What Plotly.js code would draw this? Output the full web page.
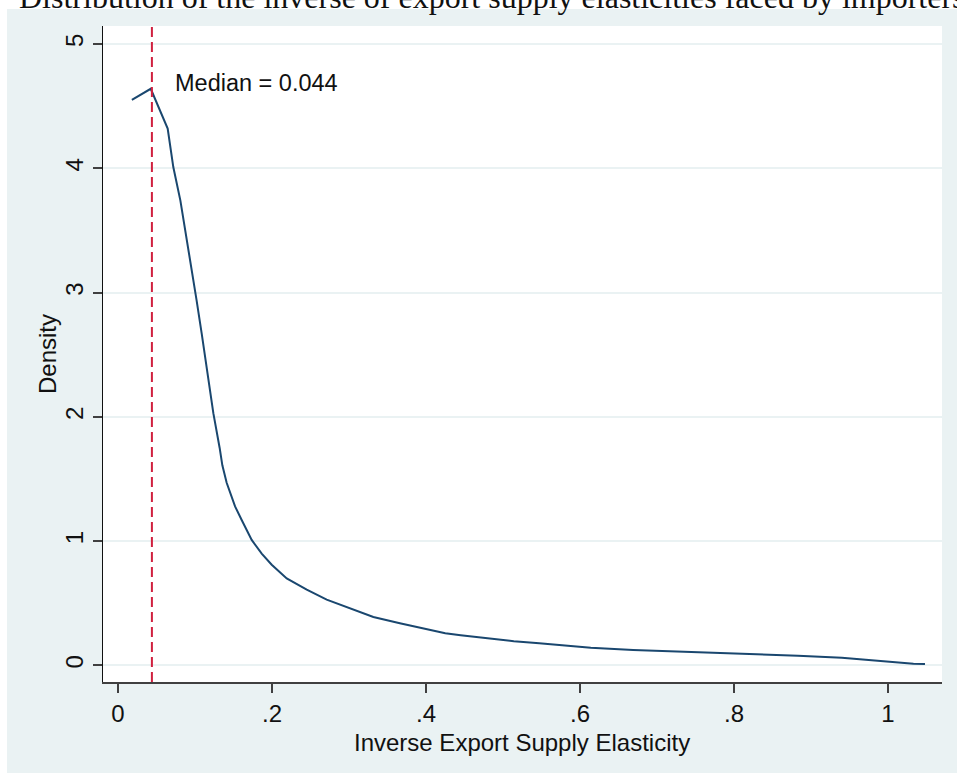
<!DOCTYPE html>
<html>
<head>
<meta charset="utf-8">
<script src="https://cdn.plot.ly/plotly-3.0.1.min.js"></script>
<style>html,body{margin:0;padding:0;background:#fff;}#chart{width:957px;height:773px;}</style>
</head>
<body>
<div id="chart"></div>
<script>
// Kernel density of inverse export supply elasticity
var elasticity = [0.018, 0.0425, 0.0645, 0.0718, 0.0810, 0.0888, 0.0957, 0.102, 0.1087, 0.116, 0.1238, 0.1320, 0.1355, 0.1411, 0.152, 0.1606, 0.1736, 0.1866, 0.1996, 0.2191, 0.2451, 0.271, 0.297, 0.3316, 0.366, 0.397, 0.409, 0.425, 0.445, 0.468, 0.491, 0.514, 0.547, 0.581, 0.614, 0.669, 0.736, 0.805, 0.883, 0.940, 0.975, 1.008, 1.033, 1.048];
var density = [4.55, 4.64, 4.32, 4.01, 3.74, 3.45, 3.18, 2.94, 2.67, 2.35, 2.03, 1.75, 1.61, 1.47, 1.28, 1.17, 1.01, 0.90, 0.81, 0.70, 0.61, 0.53, 0.47, 0.39, 0.34, 0.299, 0.278, 0.259, 0.243, 0.227, 0.211, 0.195, 0.179, 0.163, 0.143, 0.125, 0.111, 0.098, 0.079, 0.063, 0.044, 0.028, 0.014, 0.012];
var medianValue = 0.044;
var medianLabel = "Median = 0.044";
var xTickVals = [0, 0.2, 0.4, 0.6, 0.8, 1];
var xTickText = ["0", ".2", ".4", ".6", ".8", "1"];
var yTickVals = [0, 1, 2, 3, 4, 5];
var yTickText = ["0", "1", "2", "3", "4", "5"];
var chartTitle = "Distribution of the inverse of export supply elasticities faced by importers";
var xTitle = "Inverse Export Supply Elasticity";
var yTitle = "Density";

var W = 957, H = 773;
var mL = 103, mR = 15, mT = 26, mB = 91;
var pw = W - mL - mR, ph = H - mT - mB;
function px2paperX(p){ return (p - mL) / pw; }
function px2paperY(p){ return (H - mB - p) / ph; }

var sans = "Liberation Sans, Arial, sans-serif";
var bg = "#eaf2f3";

var trace = {
  x: elasticity, y: density, type: "scatter", mode: "lines",
  line: {color: "#1a476f", width: 2}, hoverinfo: "skip", showlegend: false
};

var layout = {
  width: W, height: H,
  margin: {l: mL, r: mR, t: mT, b: mB, pad: 0},
  paper_bgcolor: bg, plot_bgcolor: "#ffffff",
  showlegend: false,
  xaxis: {
    range: [-0.0195, 1.0701], tickvals: xTickVals, ticktext: xTickText,
    showgrid: false, zeroline: false, showline: true, linecolor: "#404040", linewidth: 2,
    ticks: "outside", ticklen: 9, tickwidth: 2, tickcolor: "#404040",
    tickfont: {family: sans, size: 24, color: "#111"}
  },
  yaxis: {
    range: [-0.133, 5.145], tickvals: yTickVals, ticktext: yTickText, tickangle: -90,
    showgrid: true, gridcolor: bg, gridwidth: 2, zeroline: false,
    showline: true, linecolor: "#111", linewidth: 1.5,
    ticks: "outside", ticklen: 9, tickwidth: 2, tickcolor: "#404040",
    tickfont: {family: sans, size: 24, color: "#111"}
  },
  shapes: [
    {type: "rect", xref: "paper", yref: "paper", layer: "below",
     x0: px2paperX(-5), x1: px2paperX(W + 5), y0: px2paperY(9), y1: px2paperY(-5),
     fillcolor: "#ffffff", line: {width: 0}},
    {type: "rect", xref: "paper", yref: "paper", layer: "below",
     x0: px2paperX(-5), x1: px2paperX(7), y0: px2paperY(H + 5), y1: px2paperY(-5),
     fillcolor: "#ffffff", line: {width: 0}},
    {type: "line", xref: "x", yref: "paper", x0: medianValue, x1: medianValue, y0: 0, y1: 1,
     line: {color: "#d0203f", width: 2, dash: "10px,5px"}}
  ],
  annotations: [
    {xref: "x", yref: "y", x: 0.0714, y: 4.69, xanchor: "left", yanchor: "middle",
     text: medianLabel, showarrow: false, font: {family: sans, size: 23.5, color: "#111"}},
    {xref: "paper", yref: "paper", x: px2paperX(522), y: px2paperY(742), xanchor: "center", yanchor: "middle",
     text: xTitle, showarrow: false, font: {family: sans, size: 24, color: "#111"}},
    {xref: "paper", yref: "paper", x: px2paperX(47), y: px2paperY(354), xanchor: "center", yanchor: "middle",
     text: yTitle, textangle: -90, showarrow: false, font: {family: sans, size: 24, color: "#111"}},
    {xref: "paper", yref: "paper", x: px2paperX(17), y: px2paperY(-3), xanchor: "left", yanchor: "middle",
     text: chartTitle, showarrow: false, font: {family: "Liberation Serif, Times New Roman, serif", size: 32, color: "#111"}}
  ]
};

Plotly.newPlot("chart", [trace], layout, {displayModeBar: false, staticPlot: true});
</script>
</body>
</html>
